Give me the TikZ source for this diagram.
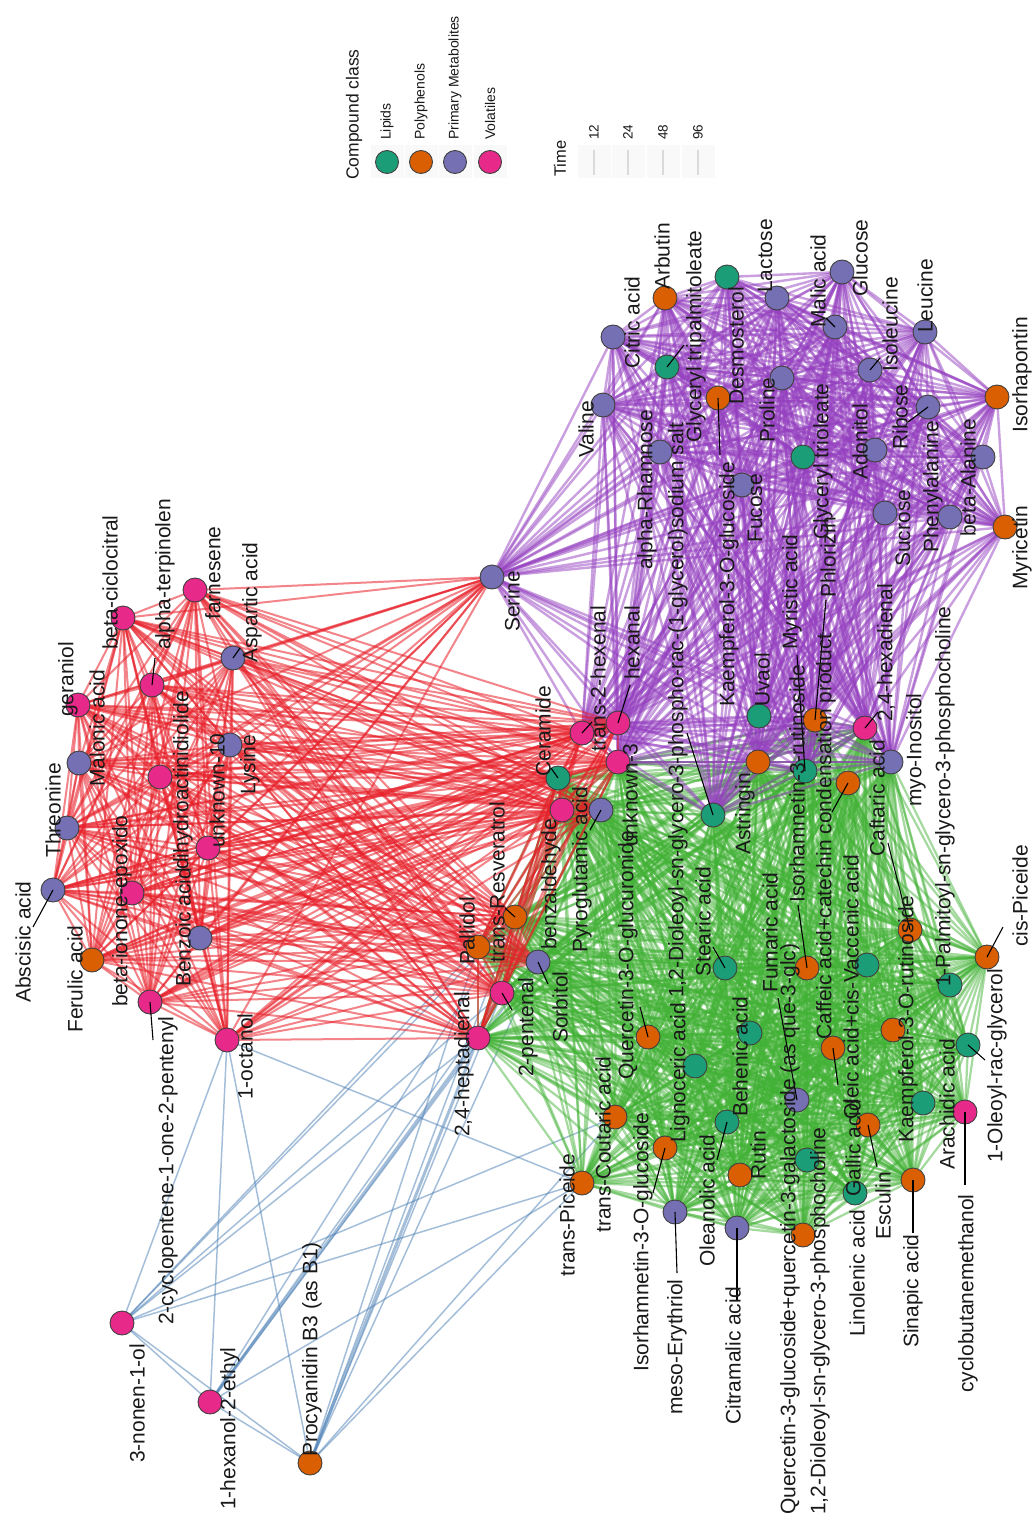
\documentclass[tikz,border=0pt]{standalone}
\usepackage{fontspec}
\setmainfont{Liberation Sans}
\pgfdeclarelayer{bg}
\pgfdeclarelayer{edgelayer}
\pgfsetlayers{bg,edgelayer,main}
\definecolor{cLip}{HTML}{1B9E77}
\definecolor{cPol}{HTML}{D95F02}
\definecolor{cPri}{HTML}{7570B3}
\definecolor{cVol}{HTML}{E7298A}
\definecolor{eRed}{HTML}{E8202A}
\definecolor{ePur}{HTML}{9540C0}
\definecolor{eGrn}{HTML}{42B236}
\definecolor{eBlu}{HTML}{4A7FB5}
\definecolor{tgray}{HTML}{DADADA}
\definecolor{keybg}{HTML}{F9F9F9}
\newcommand\mynd[4]{\node[#2] (#1) at (#3,#4) {};}
\newcommand\mylab[4]{\node[lab] (#1-l) at (#2,#3) {#4};}
\newcommand\myld[3]{\coordinate (#1-e) at (#2,#3); \draw[ldr] (#1.center) -- (#1-e);}
\newcommand\meshset[2]{\foreach \ma [count=\ia] in #2 {\foreach \mb [count=\ib] in #2 {\ifnum\ib>\ia\relax \draw[#1] (\ma.center) -- (\mb.center);\fi}}}
\newcommand\crossset[3]{\foreach \ma in #2 {\foreach \mb in #3 {\draw[#1] (\ma.center) -- (\mb.center);}}}
\def\Rlist{abscisic,threonine,geraniol,malonic,ciclocitral,terpinolen,farnesene,aspartic,dihydro,unkten,lysine,ionone,benzoic,ferulic,cyclopentene,octanol}
\def\BRlist{serine,ceramide,hexenal,hexanal,unkthree,pyroglut,benzald,resveratrol,pallidol,sorbitol,pentenal,heptadienal}
\def\BBlist{ceramide,hexenal,hexanal,unkthree,benzald,resveratrol,pallidol,pentenal,heptadienal}
\def\Plist{serine,valine,citric,arbutin,tripalm,rhamnose,kaempglc,desmosterol,lactose,proline,fucose,trioleate,malic,glucose,isoleucine,adonitol,sucrose,leucine,ribose,phenylalanine,alanine,isorhapontin,myricetin,hexenal,hexanal,unkthree,hexadienal,inositol,uvaol,phlorizin,myristic,dioleoylg,astringin}
\def\Glist{ceramide,pyroglut,benzald,sorbitol,pentenal,heptadienal,resveratrol,pallidol,unkthree,dioleoylg,astringin,myristic,phlorizin,hexadienal,inositol,caffcat,caftaric,palmitoyl,cispiceide,oleoyl,arachidic,cyclobutane,sinapic,esculin,linolenic,gallic,oleic,kaemprut,isorhrut,fumaric,behenic,stearic,oleanolic,rutin,dioleoylpc,quercglc,citramalic,erythriol,isorhglc,lignoceric,quercgluc,coutaric,transpiceide}
\begin{document}
\begin{tikzpicture}[x=1pt,y=-1pt,
  nd/.style={circle,draw=black!75,line width=0.9pt,minimum size=24pt,inner sep=0pt},
  sLip/.style={nd,fill=cLip}, sPol/.style={nd,fill=cPol},
  sPri/.style={nd,fill=cPri}, sVol/.style={nd,fill=cVol},
  lab/.style={rotate=90,anchor=west,inner sep=0pt,text=black!90,font=\fontsize{21}{21}\selectfont},
  leglab/.style={rotate=90,anchor=west,inner sep=0pt,text=black!90,font=\fontsize{14}{14}\selectfont},
  legtitle/.style={rotate=90,anchor=west,inner sep=0pt,text=black!90,font=\fontsize{17.5}{17.5}\selectfont},
  keysq/.style={fill=keybg,draw=none,minimum size=33pt,inner sep=0pt},
  ldr/.style={draw=black,line width=1.1pt},
  eR/.style={draw=eRed,draw opacity=0.55,line width=2pt},
  eP/.style={draw=ePur,draw opacity=0.5,line width=2.4pt},
  eG/.style={draw=eGrn,draw opacity=0.48,line width=2.2pt},
  eB/.style={draw=eBlu,draw opacity=0.5,line width=1.5pt},
  eBt/.style={draw=eBlu,draw opacity=0.5,line width=3pt},
  tl/.style={draw=tgray,line width=2.5pt}]
\useasboundingbox (0,0) rectangle (1035,1517);
\begin{pgfonlayer}{bg}
\fill[white] (0,0) rectangle (1035,1517);
\end{pgfonlayer}
% ---------- nodes: volatiles cluster ----------
\mynd{abscisic}{sPri}{53}{890}
\mynd{threonine}{sPri}{67}{828}
\mynd{geraniol}{sVol}{78}{705}
\mynd{malonic}{sPri}{79}{763}
\mynd{ciclocitral}{sVol}{123}{618}
\mynd{terpinolen}{sVol}{152}{685}
\mynd{farnesene}{sVol}{195}{590}
\mynd{aspartic}{sPri}{233}{658}
\mynd{dihydro}{sVol}{160}{777}
\mynd{unkten}{sVol}{208}{848}
\mynd{lysine}{sPri}{230}{745}
\mynd{ionone}{sVol}{132}{893}
\mynd{benzoic}{sPri}{200}{938}
\mynd{ferulic}{sPol}{92}{960}
\mynd{cyclopentene}{sVol}{150}{1002}
\mynd{octanol}{sVol}{227}{1040}
\mynd{serine}{sPri}{492}{577}
\mynd{ceramide}{sLip}{558}{778}
\mynd{hexenal}{sVol}{582}{733}
\mynd{hexanal}{sVol}{618}{723}
\mynd{unkthree}{sVol}{618}{762}
\mynd{pyroglut}{sPri}{601}{810}
\mynd{benzald}{sVol}{562}{810}
\mynd{resveratrol}{sPol}{515}{917}
\mynd{pallidol}{sPol}{478}{947}
\mynd{sorbitol}{sPri}{538}{962}
\mynd{pentenal}{sVol}{502}{993}
\mynd{heptadienal}{sVol}{478}{1038}
% ---------- purple cluster ----------
\mynd{valine}{sPri}{603}{405}
\mynd{citric}{sPri}{613}{337}
\mynd{arbutin}{sPol}{665}{298}
\mynd{tripalm}{sLip}{667}{367}
\mynd{rhamnose}{sPri}{660}{452}
\mynd{kaempglc}{sPol}{718}{398}
\mynd{desmosterol}{sLip}{727}{277}
\mynd{lactose}{sPri}{777}{298}
\mynd{proline}{sPri}{782}{378}
\mynd{fucose}{sPri}{742}{485}
\mynd{trioleate}{sLip}{803}{457}
\mynd{malic}{sPri}{835}{327}
\mynd{glucose}{sPri}{842}{272}
\mynd{isoleucine}{sPri}{870}{370}
\mynd{adonitol}{sPri}{875}{450}
\mynd{sucrose}{sPri}{885}{513}
\mynd{leucine}{sPri}{925}{332}
\mynd{ribose}{sPri}{928}{407}
\mynd{phenylalanine}{sPri}{950}{517}
\mynd{alanine}{sPri}{983}{457}
\mynd{isorhapontin}{sPol}{997}{397}
\mynd{myricetin}{sPol}{1005}{527}
\mynd{hexadienal}{sVol}{865}{728}
\mynd{inositol}{sPri}{891}{762}
\mynd{uvaol}{sLip}{759}{716}
\mynd{phlorizin}{sPol}{815}{720}
\mynd{myristic}{sLip}{805}{771}
\mynd{dioleoylg}{sLip}{713}{815}
\mynd{astringin}{sPol}{758}{762}
% ---------- green cluster ----------
\mynd{caffcat}{sPol}{848}{783}
\mynd{caftaric}{sPol}{910}{930}
\mynd{palmitoyl}{sLip}{950}{985}
\mynd{cispiceide}{sPol}{987}{957}
\mynd{oleoyl}{sLip}{968}{1045}
\mynd{arachidic}{sLip}{923}{1103}
\mynd{cyclobutane}{sVol}{965}{1112}
\mynd{sinapic}{sPol}{913}{1180}
\mynd{esculin}{sPol}{868}{1125}
\mynd{linolenic}{sLip}{855}{1193}
\mynd{gallic}{sPol}{833}{1048}
\mynd{oleic}{sLip}{867}{965}
\mynd{kaemprut}{sPol}{893}{1030}
\mynd{isorhrut}{sPol}{807}{968}
\mynd{fumaric}{sPri}{797}{1100}
\mynd{behenic}{sLip}{750}{1033}
\mynd{stearic}{sLip}{725}{968}
\mynd{oleanolic}{sLip}{727}{1122}
\mynd{rutin}{sPol}{740}{1175}
\mynd{dioleoylpc}{sLip}{807}{1160}
\mynd{quercglc}{sPol}{803}{1235}
\mynd{citramalic}{sPri}{737}{1228}
\mynd{erythriol}{sPri}{675}{1212}
\mynd{isorhglc}{sPol}{665}{1148}
\mynd{lignoceric}{sLip}{695}{1066}
\mynd{quercgluc}{sPol}{648}{1037}
\mynd{coutaric}{sPol}{615}{1117}
\mynd{transpiceide}{sPol}{582}{1183}
% ---------- blue group ----------
\mynd{nonen}{sVol}{122}{1323}
\mynd{hexanol}{sVol}{210}{1402}
\mynd{procyanidin}{sPol}{310}{1463}
% ---------- edges ----------
\begin{pgfonlayer}{edgelayer}
\foreach \ma/\mb in {nonen/octanol,nonen/hexanol,nonen/procyanidin,nonen/heptadienal,nonen/pentenal,nonen/pallidol,nonen/transpiceide,nonen/coutaric,nonen/resveratrol,hexanol/octanol,hexanol/pentenal,hexanol/procyanidin,hexanol/transpiceide,hexanol/sorbitol,hexanol/resveratrol,procyanidin/octanol,procyanidin/pentenal,procyanidin/pallidol,procyanidin/transpiceide,procyanidin/coutaric,procyanidin/resveratrol,procyanidin/sorbitol,octanol/transpiceide}
  {\draw[eB] (\ma.center) -- (\mb.center);}
\draw[eBt] (procyanidin.center) -- (heptadienal.center);
\draw[eBt] (hexanol.center) -- (heptadienal.center);
\meshset{eG}{\Glist}
\meshset{eP}{\Plist}
\meshset{eR}{\Rlist}
\crossset{eR}{\Rlist}{\BRlist}
\meshset{eR}{\BBlist}
\end{pgfonlayer}
% ---------- leader lines ----------
\myld{abscisic}{33}{927}
\myld{terpinolen}{155}{658}
\myld{aspartic}{240}{648}
\myld{cyclopentene}{153}{1040}
\myld{ceramide}{551}{768}
\myld{hexenal}{592}{722}
\myld{hexanal}{630}{685}
\myld{pyroglut}{590}{830}
\myld{resveratrol}{505}{908}
\myld{sorbitol}{548}{984}
\myld{pentenal}{512}{1010}
\myld{tripalm}{684}{345}
\myld{kaempglc}{720}{455}
\myld{malic}{826}{318}
\myld{isoleucine}{880}{358}
\myld{ribose}{908}{422}
\myld{hexadienal}{878}{712}
\myld{phlorizin}{826}{600}
\myld{myristic}{797}{655}
\myld{dioleoylg}{687}{733}
\myld{caffcat}{832}{812}
\myld{caftaric}{888}{843}
\myld{cispiceide}{1003}{927}
\myld{oleoyl}{985}{1060}
\myld{cyclobutane}{965}{1185}
\myld{sinapic}{913}{1233}
\myld{esculin}{877}{1167}
\myld{gallic}{838}{1085}
\myld{isorhrut}{798}{905}
\myld{fumaric}{778}{998}
\myld{stearic}{713}{947}
\myld{oleanolic}{717}{1160}
\myld{citramalic}{737}{1300}
\myld{erythriol}{677}{1273}
\myld{isorhglc}{653}{1193}
\myld{quercgluc}{640}{1007}
% ---------- labels ----------
\mylab{abscisic}{23}{1003}{Abscisic acid}
\mylab{threonine}{53}{858}{Threonine}
\mylab{geraniol}{68}{717}{geraniol}
\mylab{malonic}{97}{787}{Malonic acid}
\mylab{ciclocitral}{110}{650}{beta-ciclocitral}
\mylab{terpinolen}{165}{650}{alpha-terpinolen}
\mylab{farnesene}{213}{620}{farnesene}
\mylab{aspartic}{252}{663}{Aspartic acid}
\mylab{dihydro}{183}{870}{dihydroactinidiolide}
\mylab{unkten}{217}{848}{unknown-10}
\mylab{lysine}{250}{795}{Lysine}
\mylab{ionone}{122}{1007}{beta-ionone-epoxido}
\mylab{benzoic}{183}{987}{Benzoic acid}
\mylab{ferulic}{75}{1033}{Ferulic acid}
\mylab{cyclopentene}{168}{1325}{2-cyclopentene-1-one-2-pentenyl}
\mylab{octanol}{245}{1100}{1-octanol}
\mylab{serine}{512}{632}{Serine}
\mylab{ceramide}{543}{777}{Ceramide}
\mylab{hexenal}{598}{752}{trans-2-hexenal}
\mylab{hexanal}{632}{680}{hexanal}
\mylab{unkthree}{630}{847}{unknown-3}
\mylab{pyroglut}{582}{953}{Pyroglutamic acid}
\mylab{benzald}{551}{950}{benzaldehyde}
\mylab{resveratrol}{497}{963}{trans-Resveratrol}
\mylab{pallidol}{467}{965}{Pallidol}
\mylab{sorbitol}{560}{1043}{Sorbitol}
\mylab{pentenal}{528}{1077}{2-pentenal}
\mylab{heptadienal}{464}{1137}{2,4-heptadienal}
\mylab{valine}{586}{458}{Valine}
\mylab{citric}{632}{369}{Citric acid}
\mylab{arbutin}{662}{290}{Arbutin}
\mylab{tripalm}{696}{443}{Glyceryl tripalmitoleate}
\mylab{rhamnose}{647}{570}{alpha-Rhamnose}
\mylab{kaempglc}{729}{707}{Kaempferol-3-O-glucoside}
\mylab{desmosterol}{736}{405}{Desmosterol}
\mylab{lactose}{765}{293}{Lactose}
\mylab{proline}{767}{443}{Proline}
\mylab{fucose}{755}{543}{Fucose}
\mylab{trioleate}{823}{540}{Glyceryl trioleate}
\mylab{malic}{818}{328}{Malic acid}
\mylab{glucose}{860}{297}{Glucose}
\mylab{isoleucine}{890}{372}{Isoleucine}
\mylab{adonitol}{860}{480}{Adonitol}
\mylab{sucrose}{903}{567}{Sucrose}
\mylab{leucine}{925}{333}{Leucine}
\mylab{ribose}{900}{450}{Ribose}
\mylab{phenylalanine}{933}{553}{Phenylalanine}
\mylab{alanine}{968}{537}{beta-Alanine}
\mylab{isorhapontin}{1022}{433}{Isorhapontin}
\mylab{myricetin}{1022}{590}{Myricetin}
\mylab{hexadienal}{886}{722}{2,4-hexadienal}
\mylab{inositol}{916}{807}{myo-Inositol}
\mylab{uvaol}{762}{707}{Uvaol}
\mylab{phlorizin}{828}{598}{Phlorizin}
\mylab{myristic}{792}{650}{Myristic acid}
\mylab{dioleoylg}{678}{998}{1,2-Dioleoyl-sn-glycero-3-phospho-rac-(1-glycerol)sodium salt}
\mylab{astringin}{745}{855}{Astringin}
\mylab{caffcat}{826}{1040}{Caffeic acid+catechin condensation product}
\mylab{caftaric}{877}{857}{Caftaric acid}
\mylab{palmitoyl}{945}{987}{1-Palmitoyl-sn-glycero-3-phosphocholine}
\mylab{cispiceide}{1020}{947}{cis-Piceide}
\mylab{oleoyl}{997}{1163}{1-Oleoyl-rac-glycerol}
\mylab{arachidic}{947}{1170}{Arachidic acid}
\mylab{cyclobutane}{968}{1393}{cyclobutanemethanol}
\mylab{sinapic}{913}{1348}{Sinapic acid}
\mylab{esculin}{883}{1240}{Esculin}
\mylab{linolenic}{857}{1337}{Linolenic acid}
\mylab{gallic}{853}{1197}{Gallic acid}
\mylab{oleic}{851}{1120}{Oleic acid+cis-Vaccenic acid}
\mylab{kaemprut}{908}{1143}{Kaempferol-3-O-rutinoside}
\mylab{isorhrut}{797}{903}{Isorhamnetin-3-rutinoside}
\mylab{fumaric}{770}{993}{Fumaric acid}
\mylab{behenic}{740}{1117}{Behenic acid}
\mylab{stearic}{703}{977}{Stearic acid}
\mylab{oleanolic}{707}{1267}{Oleanolic acid}
\mylab{rutin}{758}{1180}{Rutin}
\mylab{dioleoylpc}{820}{1515}{1,2-Dioleoyl-sn-glycero-3-phosphocholine}
\mylab{quercglc}{790}{1515}{Quercetin-3-glucoside+quercetin-3-galactoside (as que-3-glc)}
\mylab{citramalic}{733}{1425}{Citramalic acid}
\mylab{erythriol}{677}{1415}{meso-Erythriol}
\mylab{isorhglc}{643}{1372}{Isorhamnetin-3-O-glucoside}
\mylab{lignoceric}{680}{1143}{Lignoceric acid}
\mylab{quercgluc}{628}{1080}{Quercetin-3-O-glucuronide}
\mylab{coutaric}{603}{1233}{trans-Coutaric acid}
\mylab{transpiceide}{567}{1277}{trans-Piceide}
\mylab{nonen}{137}{1463}{3-nonen-1-ol}
\mylab{hexanol}{230}{1510}{1-hexanol-2-ethyl}
\mylab{procyanidin}{312}{1457}{Procyanidin B3 (as B1)}
% ---------- legend ----------
\node[legtitle] (lgT) at (354,180) {Compound class};
\foreach \kx [count=\k] in {387,421,455,490}{\node[keysq] (lgK\k) at (\kx,162) {};}
\node[sLip,minimum size=23pt] (lgLip) at (387,162) {};
\node[sPol,minimum size=23pt] (lgPol) at (421,162) {};
\node[sPri,minimum size=23pt] (lgPri) at (455,162) {};
\node[sVol,minimum size=23pt] (lgVol) at (490,162) {};
\node[leglab] (lgLipl) at (387,140) {Lipids};
\node[leglab] (lgPoll) at (421,140) {Polyphenols};
\node[leglab] (lgPril) at (455,140) {Primary Metabolites};
\node[leglab] (lgVoll) at (490,140) {Volatiles};
\node[legtitle,font=\fontsize{16.5}{16.5}\selectfont] (tmT) at (560,177) {Time};
\foreach \tx/\tv [count=\k] in {594/12,628/24,663/48,698/96}{
  \node[keysq] (tmK\k) at (\tx,162) {};
  \coordinate (tmA\k) at (\tx,150);
  \coordinate (tmB\k) at (\tx,175);
  \draw[tl] (tmA\k) -- (tmB\k);
  \node[leglab,font=\fontsize{13.5}{13.5}\selectfont] (tmL\k) at (\tx,140) {\tv};
}
\end{tikzpicture}
\end{document}
